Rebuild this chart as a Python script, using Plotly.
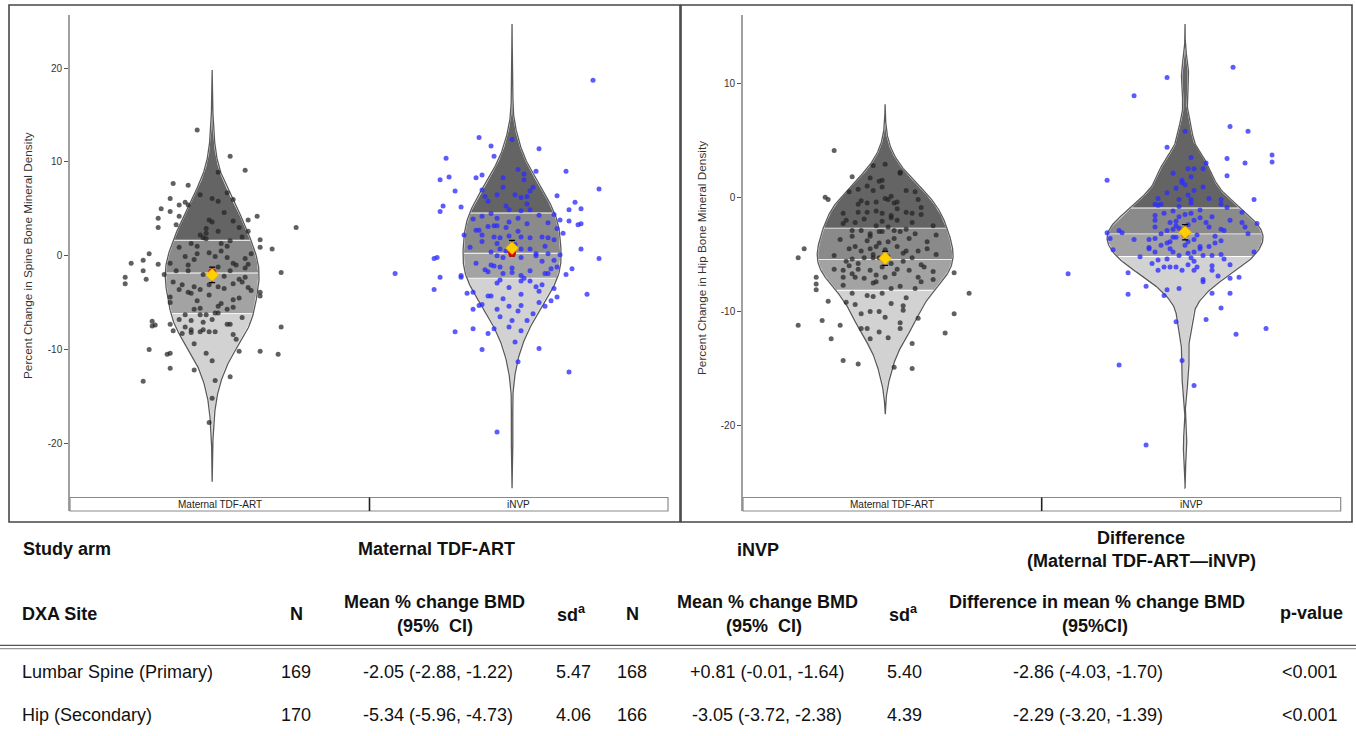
import numpy as np
import plotly.graph_objects as go

# ---------------- DATA ----------------
# individual percent changes with their horizontal jitter offset: (offset, value)
spine_tdf_points = [(-0.05,13.4),(0.06,10.6),(0.11,9.1),(0.02,8.9),(-0.13,7.7),(-0.08,7.5),(0.05,6.7),(-0.14,6.1),(-0.04,6.5),(-0.11,5.4),(-0.09,5.7),(0.00,6.1),(0.02,5.8),(0.07,6.0),(-0.17,5.0),(-0.14,4.7),(-0.11,4.2),(-0.18,4.0),(-0.18,3.0),(-0.08,5.4),(-0.01,3.8),(0.00,3.6),(0.02,2.6),(0.07,3.7),(0.12,3.8),(0.15,4.2),(0.09,3.0),(0.12,2.6),(0.28,3.0),(-0.04,2.2),(-0.03,1.9),(-0.02,1.8),(-0.02,2.4),(-0.07,1.3),(-0.11,0.9),(-0.05,1.0),(0.03,1.3),(0.06,1.6),(0.10,2.0),(0.16,1.7),(0.16,0.9),(0.20,0.7),(-0.21,0.2),(-0.27,-0.8),(-0.23,-0.5),(-0.18,-0.9),(-0.14,-0.8),(-0.09,-0.1),(-0.05,0.2),(-0.01,0.3),(0.01,-0.1),(0.05,-0.2),(0.07,-0.8),(0.11,-0.3),(0.11,-1.3),(-0.12,-1.6),(-0.08,-1.6),(0.02,-1.2),(0.06,-1.6),(0.09,-2.5),(0.11,-2.3),(-0.29,-2.3),(-0.29,-3.0),(-0.22,-2.5),(-0.23,-1.6),(0.23,-1.8),(-0.13,-2.8),(-0.10,-3.1),(-0.06,-3.3),(-0.04,-3.6),(-0.01,-3.1),(0.02,-3.3),(0.07,-3.0),(0.12,-3.4),(0.16,-3.9),(0.16,-4.3),(-0.14,-4.4),(-0.08,-3.9),(-0.07,-4.0),(-0.01,-4.2),(0.04,-3.5),(-0.14,-5.0),(0.07,-4.7),(0.07,-5.5),(0.13,-3.7),(-0.04,-5.6),(-0.06,-5.7),(-0.09,-6.3),(-0.04,-6.3),(-0.02,-6.3),(0.01,-6.1),(0.02,-6.1),(-0.11,-6.8),(-0.07,-6.9),(0.00,-6.8),(0.05,-7.3),(0.06,-7.3),(-0.09,-7.6),(-0.07,-7.9),(-0.04,-8.1),(-0.03,-7.9),(-0.01,-8.1),(0.01,-8.1),(-0.14,-7.3),(-0.20,-7.0),(-0.20,-7.5),(-0.13,-8.0),(-0.10,-8.3),(-0.07,-8.2),(0.07,-8.4),(0.08,-8.9),(-0.06,-9.4),(0.09,-10.2),(0.16,-10.2),(0.22,-10.5),(0.23,-7.6),(-0.21,-10.0),(-0.15,-10.5),(-0.14,-10.4),(-0.14,-12.0),(-0.06,-12.2),(-0.02,-10.4),(0.00,-11.2),(0.06,-12.9),(0.01,-13.3),(-0.23,-13.4),(0.00,-15.2),(-0.01,-17.8),(0.02,-5.4),(-0.19,-7.4),(0.05,-5.7),(0.03,0.5),(-0.06,-0.4),(0.08,-1.0),(-0.03,-2.0),(0.04,-2.2),(0.10,-2.8),(-0.11,-3.6),(0.09,-4.5),(-0.05,-4.8),(0.03,-5.1),(-0.08,-1.0),(0.13,0.2),(-0.02,2.9),(0.04,4.6),(-0.12,3.3),(0.10,-6.6),(-0.03,-7.1),(0.12,-0.9),(-0.16,-2.0),(0.05,1.0)]

spine_invp_points = [(0.27,18.7),(-0.11,12.6),(-0.07,11.7),(0.00,12.4),(0.09,11.4),(-0.06,10.6),(-0.22,10.4),(0.18,9.0),(0.02,9.2),(0.08,9.0),(-0.24,8.1),(-0.21,8.4),(-0.12,8.3),(-0.10,8.6),(0.04,8.1),(-0.03,8.3),(0.29,7.1),(-0.19,6.9),(-0.10,7.0),(-0.03,7.3),(0.07,7.3),(0.06,6.9),(0.01,6.5),(0.03,6.2),(0.05,6.3),(-0.09,6.3),(-0.05,6.5),(0.15,6.4),(-0.23,5.3),(-0.24,4.7),(-0.17,5.2),(0.21,5.7),(0.23,5.0),(0.19,4.9),(-0.02,5.3),(-0.01,4.9),(0.03,4.8),(0.06,4.9),(-0.07,4.5),(-0.10,4.2),(-0.05,4.0),(-0.01,3.6),(0.02,4.0),(0.05,3.4),(0.09,4.3),(0.12,3.5),(0.14,4.4),(0.16,3.8),(0.19,3.7),(0.22,3.3),(0.23,3.4),(0.15,2.9),(-0.12,2.7),(-0.11,2.7),(-0.08,3.1),(-0.06,3.2),(-0.05,3.2),(-0.16,2.2),(-0.10,2.2),(-0.06,2.0),(-0.04,1.9),(-0.01,2.1),(0.03,2.0),(0.06,1.9),(0.10,2.0),(0.12,1.9),(0.14,1.7),(-0.10,1.5),(0.23,0.7),(0.29,-0.3),(-0.25,-0.2),(-0.26,-0.3),(-0.39,-1.9),(-0.04,0.7),(-0.02,0.5),(0.03,0.7),(0.06,0.7),(0.08,0.2),(0.12,0.2),(0.16,0.1),(-0.05,0.0),(-0.03,-0.2),(0.03,-0.2),(0.08,0.0),(-0.07,-1.0),(-0.06,-1.1),(-0.04,-1.2),(0.00,-1.3),(-0.09,-1.5),(-0.08,-1.7),(-0.03,-1.9),(0.00,-1.8),(0.03,-2.1),(0.04,-2.4),(0.06,-2.7),(0.03,-2.7),(0.11,-1.9),(0.12,-1.9),(0.14,-0.5),(0.13,-1.4),(0.15,-1.2),(0.18,-2.0),(0.20,-1.4),(-0.24,-2.3),(-0.17,-2.3),(-0.17,-2.1),(-0.05,-2.9),(-0.04,-2.6),(-0.26,-3.6),(-0.15,-4.0),(-0.13,-3.9),(-0.08,-4.3),(-0.07,-4.3),(0.03,-4.1),(0.09,-3.8),(0.10,-3.1),(0.14,-3.5),(0.13,-4.8),(0.15,-4.4),(0.25,-4.1),(0.11,-5.4),(-0.13,-5.7),(-0.11,-5.3),(-0.10,-5.2),(-0.05,-5.7),(-0.01,-5.4),(0.02,-5.9),(0.03,-5.3),(0.07,-6.2),(-0.19,-8.1),(-0.13,-7.8),(-0.08,-8.3),(-0.06,-7.8),(-0.01,-7.6),(0.03,-8.0),(0.01,-9.2),(-0.10,-10.0),(0.09,-9.9),(0.02,-11.3),(0.19,-12.4),(-0.05,-18.8),(0.00,-6.9),(0.05,-6.9),(0.01,1.2),(-0.07,0.4),(0.10,-0.6),(-0.02,3.0),(0.05,5.5),(-0.12,-0.8),(0.08,-3.3),(-0.03,-4.6),(0.02,2.6),(-0.08,5.8),(0.11,1.0),(-0.01,-3.4),(0.06,-1.6),(-0.14,0.9),(0.17,2.4),(-0.04,-6.5),(0.04,8.7),(-0.05,1.3),(0.09,-5.0),(-0.13,3.9)]

hip_tdf_points = [(-0.17,4.1),(-0.20,0.0),(-0.19,-0.2),(-0.11,1.8),(-0.12,0.5),(-0.04,2.8),(0.00,2.9),(-0.05,1.7),(-0.02,1.4),(-0.01,1.5),(0.05,2.2),(0.05,2.1),(-0.09,0.7),(-0.04,0.6),(0.00,-0.1),(0.01,-0.2),(0.02,0.1),(0.04,-0.4),(0.03,-0.5),(0.07,0.6),(0.10,0.5),(0.11,-0.2),(0.12,-0.9),(0.12,-1.5),(-0.09,-0.6),(-0.06,-0.5),(-0.03,-0.4),(-0.09,-1.3),(-0.06,-1.3),(-0.03,-1.2),(0.02,-1.6),(0.07,-1.3),(0.09,-1.4),(-0.14,-1.4),(-0.14,-2.3),(-0.13,-2.0),(-0.10,-2.2),(-0.01,-2.1),(0.02,-1.8),(0.04,-2.0),(0.16,-2.5),(-0.08,-2.9),(-0.02,-3.0),(-0.01,-3.0),(0.03,-2.9),(0.05,-3.0),(0.07,-2.8),(0.10,-3.2),(0.17,-3.3),(-0.11,-2.9),(-0.11,-3.4),(-0.05,-3.4),(-0.05,-3.2),(-0.27,-4.5),(-0.29,-5.3),(-0.17,-5.1),(-0.12,-4.5),(-0.10,-4.3),(-0.08,-4.7),(-0.05,-4.5),(-0.03,-4.3),(0.01,-3.9),(0.04,-4.3),(0.07,-4.7),(0.11,-4.7),(0.14,-4.5),(0.17,-5.0),(-0.11,-5.4),(-0.07,-5.3),(-0.04,-5.3),(-0.02,-5.3),(0.02,-5.8),(0.06,-5.6),(0.09,-5.3),(-0.17,-6.3),(-0.14,-6.4),(-0.11,-6.7),(-0.09,-6.3),(-0.05,-6.4),(-0.01,-6.1),(0.04,-6.3),(0.08,-6.4),(0.12,-7.4),(0.16,-6.5),(0.23,-6.6),(-0.14,-7.0),(-0.10,-7.0),(-0.07,-7.1),(-0.04,-7.5),(0.00,-7.0),(0.05,-7.8),(0.11,-7.0),(0.16,-7.2),(-0.23,-7.0),(-0.23,-7.6),(-0.23,-8.1),(-0.14,-7.7),(0.28,-8.4),(-0.19,-9.1),(-0.13,-9.2),(-0.10,-9.4),(-0.06,-8.6),(-0.04,-8.7),(-0.01,-8.4),(0.02,-9.3),(-0.08,-10.2),(-0.05,-10.0),(-0.02,-10.0),(0.00,-10.5),(0.06,-9.9),(0.11,-10.6),(0.05,-11.0),(-0.21,-10.8),(-0.29,-11.2),(-0.15,-11.2),(-0.08,-11.5),(-0.06,-11.5),(0.05,-11.5),(0.23,-10.2),(0.20,-11.9),(-0.18,-12.4),(-0.05,-12.4),(0.01,-12.3),(-0.14,-14.3),(-0.09,-14.6),(0.03,-14.9),(0.09,-15.0),(-0.08,-0.3),(-0.01,-1.4),(0.01,-5.2),(-0.03,-7.4),(0.03,-3.6),(-0.06,-3.8),(0.08,-3.6),(-0.02,-4.0),(0.06,-4.9),(-0.09,-5.8),(0.12,-5.9),(-0.12,-6.0),(0.03,-6.7),(-0.03,-2.5),(0.09,-2.2),(-0.07,-1.9),(0.02,-8.0),(-0.11,-8.4),(0.07,-8.8),(0.00,-4.6),(-0.04,-5.0),(0.14,-3.9),(0.04,-1.0),(-0.01,0.9),(0.13,-6.1),(-0.15,-3.7),(0.06,-9.5),(-0.02,-11.8),(0.09,-12.8),(-0.06,1.0),(0.01,-2.6),(-0.03,-6.8),(0.10,-8.0),(-0.13,-5.6)]

hip_invp_points = [(0.16,11.4),(-0.06,10.5),(-0.17,8.9),(0.15,6.2),(0.21,5.8),(0.00,5.8),(-0.06,4.4),(0.29,3.7),(0.29,3.1),(0.14,3.4),(0.20,3.0),(0.02,3.5),(0.07,3.0),(0.01,2.5),(0.03,2.5),(0.06,2.5),(0.14,1.9),(-0.26,1.5),(-0.01,1.5),(0.02,1.8),(-0.01,1.3),(0.00,1.1),(-0.03,0.8),(0.03,0.6),(-0.06,0.4),(-0.02,-0.2),(0.02,-0.2),(0.08,-0.1),(0.12,-0.2),(0.23,-0.2),(-0.10,-0.6),(-0.08,-0.6),(-0.09,-0.7),(0.02,-0.5),(0.05,-1.1),(0.02,-1.4),(-0.04,-1.2),(-0.02,-1.7),(0.00,-1.5),(0.03,-2.0),(0.12,-0.6),(0.14,-0.9),(0.19,-1.3),(-0.10,-1.6),(-0.10,-2.0),(-0.05,-2.2),(-0.03,-2.1),(0.09,-1.7),(0.15,-2.0),(0.19,-2.2),(0.24,-2.3),(0.20,-2.6),(-0.10,-2.6),(-0.06,-2.9),(-0.04,-2.8),(-0.02,-2.7),(0.08,-2.6),(0.12,-2.8),(0.13,-2.9),(-0.22,-2.9),(-0.21,-3.1),(-0.26,-3.1),(-0.25,-3.6),(0.21,-3.2),(-0.17,-3.7),(-0.12,-3.7),(-0.10,-3.6),(-0.08,-4.2),(-0.06,-4.0),(-0.04,-3.5),(-0.03,-3.5),(0.01,-3.9),(0.03,-3.7),(0.05,-4.3),(0.08,-4.3),(0.10,-4.0),(0.12,-3.8),(-0.12,-4.4),(-0.12,-4.5),(-0.24,-4.6),(-0.10,-4.8),(-0.05,-4.5),(-0.04,-4.8),(0.01,-4.9),(0.03,-4.8),(0.05,-4.5),(0.06,-5.1),(0.09,-5.1),(0.12,-5.0),(0.13,-5.4),(0.23,-4.8),(-0.15,-5.2),(-0.09,-5.5),(-0.06,-5.4),(-0.02,-5.1),(0.01,-5.9),(0.03,-5.6),(0.04,-6.1),(0.15,-5.9),(-0.07,-6.1),(-0.05,-6.1),(-0.03,-6.1),(-0.01,-6.4),(0.03,-6.4),(-0.09,-6.4),(-0.19,-6.6),(0.09,-6.4),(0.11,-6.9),(0.15,-7.1),(0.18,-7.0),(0.06,-7.2),(0.06,-7.4),(-0.39,-6.7),(-0.13,-7.8),(-0.19,-8.5),(-0.07,-8.6),(-0.06,-8.1),(-0.02,-8.0),(0.09,-8.4),(0.15,-8.4),(0.12,-9.7),(-0.03,-10.9),(0.07,-10.7),(0.17,-12.0),(0.27,-11.5),(-0.22,-14.7),(-0.01,-14.3),(0.03,-16.5),(-0.13,-21.7),(-0.09,-0.1),(0.06,0.9),(-0.02,-0.8),(-0.08,-3.2),(0.01,-2.4),(-0.01,-3.0),(0.04,-3.3),(-0.05,-3.9),(0.07,-2.2),(-0.07,-1.4),(0.00,-4.2),(0.02,-5.3),(-0.03,-2.5),(0.05,-1.8),(-0.11,-5.8),(0.10,-3.4),(0.01,0.2),(-0.04,2.1),(0.09,-6.0)]

arms = ["Maternal TDF-ART", "iNVP"]
# violin band limits: [lower tail, Q1, median, Q3, upper tail]
spine_bands = [[-24.1, -6.1, -1.8, 1.7, 19.8], [-24.8, -2.35, 0.3, 4.6, 24.7]]
hip_bands = [[-19.0, -8.1, -5.4, -2.66, 8.15], [-25.5, -5.14, -3.16, -0.9, 15.2]]
spine_means = [-2.05, 0.81]
spine_ci_lo = [-2.88, -0.01]
spine_ci_hi = [-1.22, 1.64]
hip_means = [-5.34, -3.05]
hip_ci_lo = [-5.96, -3.72]
hip_ci_hi = [-4.73, -2.38]
spine_ticks = [-20, -10, 0, 10, 20]
hip_ticks = [-20, -10, 0, 10]

# table
row_labels = ["Lumbar Spine (Primary)", "Hip (Secondary)"]
n_tdf = ["169", "170"]
mean_tdf = ["-2.05 (-2.88, -1.22)", "-5.34 (-5.96, -4.73)"]
sd_tdf = ["5.47", "4.06"]
n_invp = ["168", "166"]
mean_invp = ["+0.81 (-0.01, -1.64)", "-3.05 (-3.72, -2.38)"]
sd_invp = ["5.40", "4.39"]
diff_mean = ["-2.86 (-4.03, -1.70)", "-2.29 (-3.20, -1.39)"]
p_values = ["<0.001", "<0.001"]

# ---------------- STYLE ----------------
W, H = 1356, 736
FONT = "Liberation Sans, Arial, sans-serif"
band_colors = ["#d2d2d2", "#a3a3a3", "#8a8a8a", "#646464"]
dot_colors = ["rgba(35,35,35,0.72)", "rgba(45,45,255,0.78)"]
# full violin widths (x units) and kernel bandwidth multipliers
violin_widths = {"spine": [0.313, 0.327], "hip": [0.453, 0.52]}
bw_mult = {"spine": [1.0, 0.95], "hip": [1.0, 0.8]}


def px(x):
    return x / W


def py(y):
    return 1 - y / H


def kde(vals, mult):
    v = np.asarray(vals, dtype=float)
    n = len(v)
    q75, q25 = np.percentile(v, [75, 25])
    bw = 1.059 * min(v.std(ddof=1), (q75 - q25) / 1.349) * n ** -0.2 * mult

    def dens(t):
        t = np.asarray(t, dtype=float)[:, None]
        return np.exp(-0.5 * ((t - v[None, :]) / bw) ** 2).sum(axis=1)
    return dens


fig = go.Figure()


def add_panel(points_list, bands_list, means, lo, hi, widths, mults, xa, ya):
    for g in range(2):
        pts = points_list[g]
        vals = [p[1] for p in pts]
        xs = [g + p[0] for p in pts]
        b = bands_list[g]
        dens = kde(vals, mults[g])
        tt = np.linspace(b[0], b[4], 1200)
        dmax = dens(tt).max()
        half = widths[g] / 2

        def outline(a, c):
            t = np.linspace(a, c, 300)
            hw = half * dens(t) / dmax
            return (np.concatenate([g + hw, (g - hw)[::-1]]),
                    np.concatenate([t, t[::-1]]))
        for k in range(4):
            vx, vy = outline(b[k], b[k + 1])
            fig.add_trace(go.Scatter(x=vx, y=vy, mode="lines", fill="toself",
                                     fillcolor=band_colors[k], line=dict(color="white", width=1.8),
                                     xaxis=xa, yaxis=ya, hoverinfo="skip", showlegend=False))
        vx, vy = outline(b[0], b[4])
        fig.add_trace(go.Scatter(x=np.append(vx, vx[0]), y=np.append(vy, vy[0]), mode="lines",
                                 line=dict(color="#5a5a5a", width=1.3),
                                 xaxis=xa, yaxis=ya, hoverinfo="skip", showlegend=False))
        fig.add_trace(go.Scatter(
            x=xs, y=vals, mode="markers", xaxis=xa, yaxis=ya, showlegend=False, hoverinfo="skip",
            marker=dict(size=5, color=dot_colors[g], line=dict(width=0))))
        # CI error bar
        fig.add_trace(go.Scatter(
            x=[g], y=[means[g]], mode="markers", xaxis=xa, yaxis=ya, showlegend=False,
            marker=dict(size=1, color="rgba(0,0,0,0)"),
            error_y=dict(type="data", symmetric=False, array=[hi[g] - means[g]],
                         arrayminus=[means[g] - lo[g]], color="black", thickness=1.2, width=3)))
        # median (red) and mean (yellow diamond)
        fig.add_trace(go.Scatter(
            x=[g], y=[b[2]], mode="markers", xaxis=xa, yaxis=ya, showlegend=False,
            marker=dict(size=8, color="#e00000", symbol="circle")))
        fig.add_trace(go.Scatter(
            x=[g], y=[means[g]], mode="markers", xaxis=xa, yaxis=ya, showlegend=False,
            marker=dict(size=10, color="#ffd000", symbol="diamond", line=dict(color="#f0a000", width=0.6))))


add_panel([spine_tdf_points, spine_invp_points], spine_bands, spine_means, spine_ci_lo, spine_ci_hi,
          violin_widths["spine"], bw_mult["spine"], "x", "y")
add_panel([hip_tdf_points, hip_invp_points], hip_bands, hip_means, hip_ci_lo, hip_ci_hi,
          violin_widths["hip"], bw_mult["hip"], "x2", "y2")

yax_common = dict(showgrid=False, zeroline=False, ticks="outside", ticklen=4, tickwidth=1,
                  tickcolor="#555", showline=True, linecolor="#a0a0a0", linewidth=1.6,
                  tickfont=dict(family=FONT, size=10, color="#333"))
xax_common = dict(showgrid=False, zeroline=False, showticklabels=False, ticks="",
                  showline=False, type="linear", range=[-0.474, 1.52])

fig.update_layout(
    width=W, height=H, margin=dict(l=0, r=0, t=0, b=0),
    paper_bgcolor="white", plot_bgcolor="white", showlegend=False,
    xaxis=dict(domain=[px(70), px(668)], anchor="y", **xax_common),
    yaxis=dict(domain=[py(511), py(15)], anchor="x", range=[-27.23, 25.67],
               tickvals=spine_ticks, ticktext=[str(t) for t in spine_ticks], **yax_common),
    xaxis2=dict(domain=[px(743), px(1341)], anchor="y2", **xax_common),
    yaxis2=dict(domain=[py(511), py(15)], anchor="x2", range=[-27.49, 15.98],
                tickvals=hip_ticks, ticktext=[str(t) for t in hip_ticks], **yax_common),
)

shapes = []
annotations = []
# panel frames
for x0, x1 in [(9, 680), (681, 1352)]:
    shapes.append(dict(type="rect", xref="paper", yref="paper", x0=px(x0), x1=px(x1),
                       y0=py(522), y1=py(5), line=dict(color="#474747", width=1.6),
                       fillcolor="rgba(0,0,0,0)", layer="above"))
# category strips
for sx0, sdiv, sx1 in [(70, 369.5, 668), (743, 1041.7, 1340.7)]:
    shapes.append(dict(type="rect", xref="paper", yref="paper", x0=px(sx0), x1=px(sx1),
                       y0=py(511), y1=py(497.5), line=dict(color="#8a8a8a", width=1.2),
                       fillcolor="white", layer="above"))
    shapes.append(dict(type="line", xref="paper", yref="paper", x0=px(sdiv), x1=px(sdiv),
                       y0=py(511), y1=py(497.5), line=dict(color="#222", width=1.6)))
    for cx, label in zip([(sx0 + sdiv) / 2, (sdiv + sx1) / 2], arms):
        annotations.append(dict(text=label, xref="paper", yref="paper", x=px(cx), y=py(504.5),
                                showarrow=False, xanchor="center", yanchor="middle",
                                font=dict(family=FONT, size=10, color="#222")))
# axis titles
annotations.append(dict(text="Percent Change in Spine Bone Mineral Density", xref="paper", yref="paper",
                        x=px(28), y=py(256), textangle=-90, showarrow=False, xanchor="center",
                        yanchor="middle", font=dict(family=FONT, size=11.8, color="#333")))
annotations.append(dict(text="Percent Change in Hip Bone Mineral Density", xref="paper", yref="paper",
                        x=px(702), y=py(258), textangle=-90, showarrow=False, xanchor="center",
                        yanchor="middle", font=dict(family=FONT, size=11.8, color="#333")))

# table lines
shapes.append(dict(type="line", xref="paper", yref="paper", x0=0, x1=1, y0=py(645.3), y1=py(645.3),
                   line=dict(color="#555", width=1.3)))
shapes.append(dict(type="line", xref="paper", yref="paper", x0=0, x1=1, y0=py(648.7), y1=py(648.7),
                   line=dict(color="#999", width=1.3)))


def txt(s, x, y, bold=False, anchor="center"):
    annotations.append(dict(text=f"<b>{s}</b>" if bold else s, xref="paper", yref="paper",
                            x=px(x), y=py(y), showarrow=False, xanchor=anchor, yanchor="middle",
                            font=dict(family=FONT, size=18, color="#111")))


# header row 1
txt("Study arm", 21, 549, True, "left")
txt(arms[0], 436, 549, True)
txt(arms[1], 758, 550, True)
txt("Difference", 1141, 538, True)
txt("(Maternal TDF-ART\u2014iNVP)", 1141, 561, True)
# header row 2
txt("DXA Site", 20, 614, True, "left")
txt("N", 296, 614, True)
txt("Mean % change BMD", 434, 602, True)
txt("(95%  CI)", 435, 626, True)
txt("sd<sup>a</sup>", 571, 613, True)
txt("N", 632, 614, True)
txt("Mean % change BMD", 767, 602, True)
txt("(95%  CI)", 764, 626, True)
txt("sd<sup>a</sup>", 903, 613, True)
txt("Difference in mean % change BMD", 1097, 602, True)
txt("(95%CI)", 1095, 626, True)
txt("p-value", 1311, 613, True)
# data rows
for i, yrow in enumerate([671.5, 715]):
    txt(row_labels[i], 20, yrow, False, "left")
    txt(n_tdf[i], 296, yrow)
    txt(mean_tdf[i], 438, yrow)
    txt(sd_tdf[i], 573, yrow)
    txt(n_invp[i], 632, yrow)
    txt(mean_invp[i], 767, yrow)
    txt(sd_invp[i], 904, yrow)
    txt(diff_mean[i], 1088, yrow)
    txt(p_values[i], 1310, yrow)

fig.update_layout(shapes=shapes, annotations=annotations)

fig.write_html("out.html", config={"displayModeBar": False},
               post_script="document.body.style.margin='0';document.body.style.overflow='hidden';")
